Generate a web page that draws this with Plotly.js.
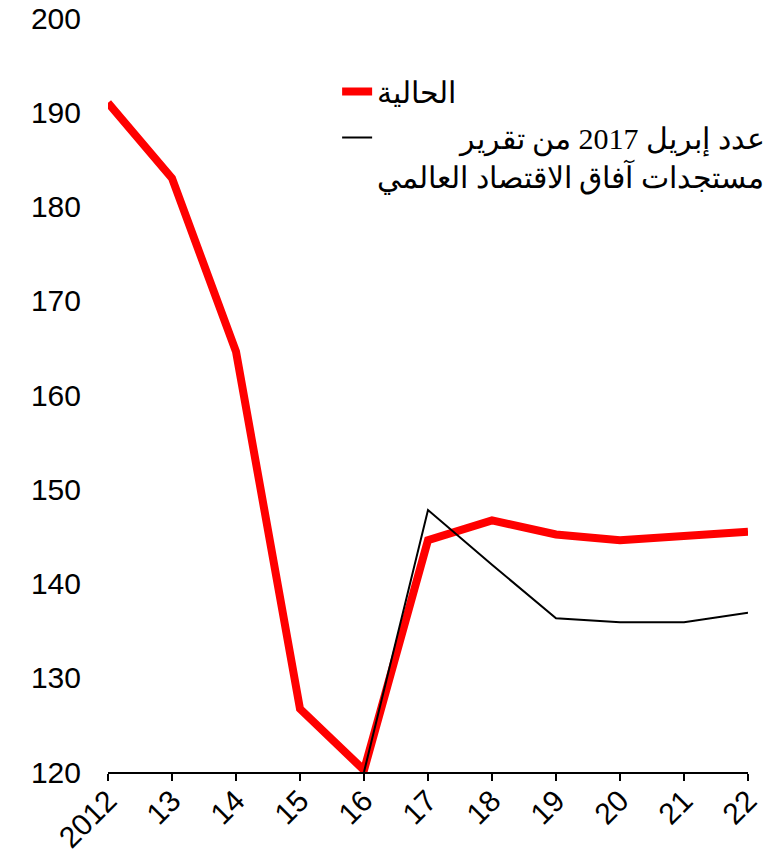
<!DOCTYPE html>
<html>
<head>
<meta charset="utf-8">
<script src="https://cdn.plot.ly/plotly-3.0.1.min.js"></script>
<style>
  html, body { margin: 0; padding: 0; background: #fff; }
  #chart { width: 784px; height: 853px; }
</style>
</head>
<body>
<div id="chart"></div>
<script>
const years = [2012, 2013, 2014, 2015, 2016, 2017, 2018, 2019, 2020, 2021, 2022];
const yearLabels = ["2012", "13", "14", "15", "16", "17", "18", "19", "20", "21", "22"];
const current = [191.0, 183.0, 164.6, 126.7, 120.2, 144.6, 146.7, 145.2, 144.6, 145.0, 145.5];
const april2017 = [null, null, null, null, 120.0, 147.8, 142.0, 136.3, 135.9, 135.9, 136.9];

const nbsp = "\u00A0".repeat(11);
const currentName = "الحالية";
const aprilName = nbsp + "عدد إبريل 2017 من تقرير<br>مستجدات آفاق الاقتصاد العالمي";

const tickFont = { family: "Liberation Sans, Arial, sans-serif", size: 30, color: "#000" };

Plotly.newPlot(
  "chart",
  [
    {
      x: years,
      y: current,
      type: "scatter",
      mode: "lines",
      name: currentName,
      legendgroup: "current",
      line: { color: "#ff0000", width: 8 },
    },
    {
      x: years,
      y: april2017,
      type: "scatter",
      mode: "lines",
      name: aprilName,
      legendgroup: "april",
      line: { color: "#000000", width: 2 },
    },
  ],
  {
    width: 784,
    height: 853,
    margin: { l: 108, r: 36, t: 18, b: 81, autoexpand: false },
    paper_bgcolor: "#fff",
    plot_bgcolor: "#fff",
    showlegend: true,
    legend: {
      x: 0.358,
      y: 0.937,
      xanchor: "left",
      yanchor: "top",
      valign: "top",
      bgcolor: "rgba(0,0,0,0)",
      font: { family: "Liberation Serif, Times New Roman, serif", size: 30, color: "#000" },
      tracegroupgap: 4,
    },
    xaxis: {
      range: [2012, 2022],
      tickvals: years,
      ticktext: yearLabels,
      tickangle: -45,
      showline: true,
      linecolor: "#000",
      linewidth: 2,
      ticks: "outside",
      ticklen: 7,
      tickwidth: 2,
      tickcolor: "#000",
      showgrid: false,
      zeroline: false,
      ticklabelstandoff: -10,
      tickfont: tickFont,
    },
    yaxis: {
      range: [120, 200],
      dtick: 10,
      ticks: "",
      showline: false,
      showgrid: false,
      zeroline: false,
      ticklabelstandoff: 26,
      tickfont: tickFont,
    },
  },
  { displayModeBar: false },
);
</script>
</body>
</html>
